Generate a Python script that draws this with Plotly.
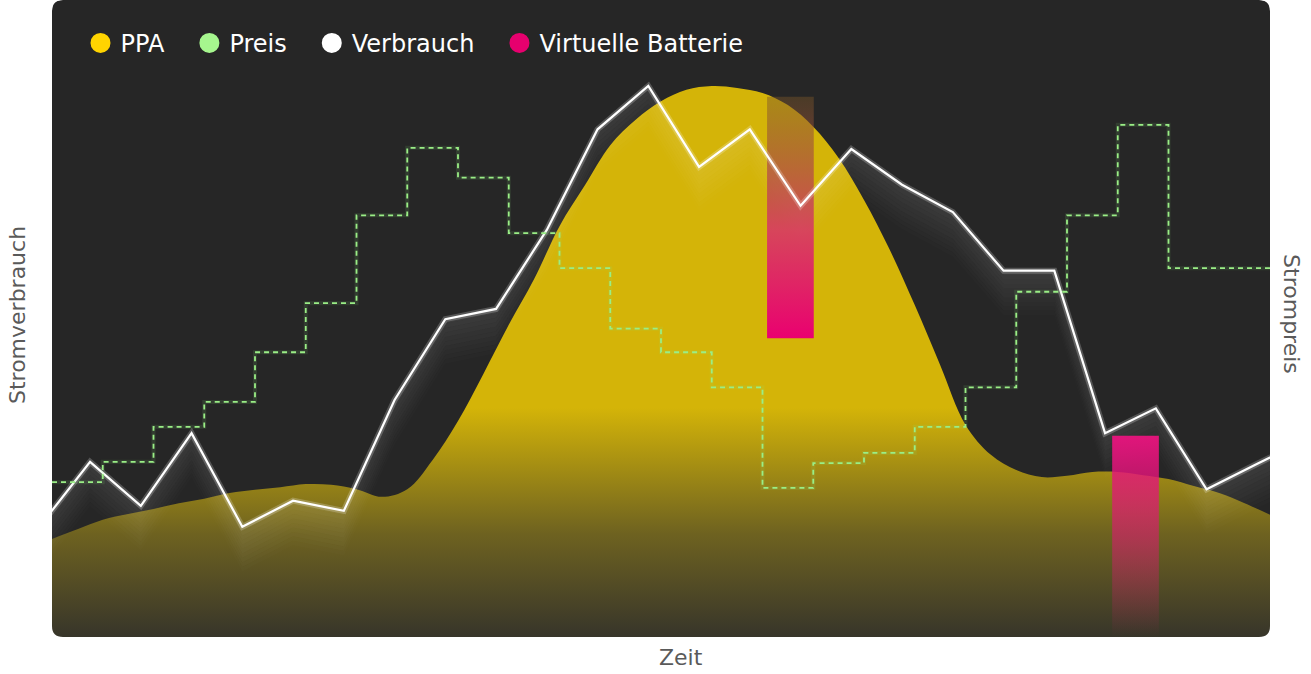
import plotly.graph_objects as go

# Time axis in hours, values in relative units (0-100)
verbrauch_hours = [-0.25, 0.75, 1.75, 2.75, 3.75, 4.75, 5.75, 6.75, 7.75, 8.75, 9.75, 10.75, 11.75,
                   12.75, 13.75, 14.75, 15.75, 16.75, 17.75, 18.75, 19.75, 20.75, 21.75, 22.75, 23.75, 24.75]
verbrauch = [17.3, 27.5, 20.6, 32.0, 17.3, 21.4, 19.8, 37.2, 49.9, 51.5, 63.9, 79.7, 86.5,
             73.8, 79.7, 67.7, 76.6, 71.0, 66.7, 57.5, 57.5, 32.0, 35.9, 23.2, 27.2, 31.1]

preis_hours = list(range(0, 23)) + [24]
preis = [24.3, 27.5, 33.0, 36.9, 44.7, 52.4, 66.2, 76.8, 72.1, 63.4, 57.9, 48.4, 44.7,
         39.2, 23.4, 27.3, 28.9, 33.0, 39.2, 54.2, 66.2, 80.4, 57.9, 57.9]

ppa_hours = [h / 2 for h in range(49)]
ppa = [15.4, 16.9, 18.4, 19.3, 20.1, 21.0, 21.7, 22.6, 23.1, 23.5, 24.0, 23.9, 23.2, 22.0, 23.2,
       27.8, 33.9, 41.3, 49.0, 56.2, 64.5, 70.9, 77.2, 81.2, 84.1, 85.9, 86.5, 86.2, 85.4, 83.5,
       80.1, 75.2, 68.6, 60.9, 52.1, 42.7, 33.3, 28.6, 26.2, 25.1, 25.3, 25.9, 25.9, 25.4, 24.8,
       23.7, 22.6, 21.0, 19.2]

batterie_hours = [14.55, 21.35]
batterie_low = [46.9, 0.0]
batterie_high = [84.8, 31.6]
batterie_width = 0.92

legend_names = ["PPA", "Preis", "Verbrauch", "Virtuelle Batterie"]
legend_colors = ["#FFD400", "#A6F68E", "#FFFFFF", "#E6006E"]

FONT = "DejaVu Sans"
PAD = "\u00a0\u00a0\u2009"   # extra room between legend entries

fig = go.Figure()

# PPA area with vertical gradient
fig.add_trace(go.Scatter(
    x=ppa_hours, y=ppa, mode="lines", line=dict(width=0, shape="spline", smoothing=1.0),
    fill="tozeroy",
    fillgradient=dict(type="vertical", start=0, stop=36,
                      colorscale=[[0, "#37352a"], [0.45, "#6e6220"], [1, "#d4b408"]]),
    hoverinfo="skip", showlegend=False,
))

# soft glow below the consumption line
glow_steps = [0.7 * k for k in range(1, 11)]
fig.add_trace(go.Scatter(x=verbrauch_hours, y=verbrauch, mode="lines", line=dict(width=0),
                         hoverinfo="skip", showlegend=False))
for n, d in enumerate(glow_steps):
    fig.add_trace(go.Scatter(
        x=verbrauch_hours, y=[v - d for v in verbrauch], mode="lines", line=dict(width=0),
        fill="tonexty", fillcolor="rgba(255,255,255,%.3f)" % (0.10 * (1 - n / len(glow_steps))),
        hoverinfo="skip", showlegend=False,
    ))

# price step line (secondary axis)
fig.add_trace(go.Scatter(
    x=preis_hours, y=preis, yaxis="y2", mode="lines",
    line=dict(color="rgba(140,230,120,0.12)", width=4, shape="hv"),
    hoverinfo="skip", showlegend=False,
))
fig.add_trace(go.Scatter(
    x=preis_hours, y=preis, yaxis="y2", mode="lines",
    line=dict(color="#9aee86", width=1.8, shape="hv", dash="5px,4px"),
    hoverinfo="skip", showlegend=False,
))

# virtual battery bars with gradient
bar_scales = [
    [[0, "rgba(234,0,112,1)"], [0.45, "rgba(215,50,105,0.85)"], [1, "rgba(120,85,40,0.45)"]],
    [[0, "rgba(228,20,120,0)"], [0.5, "rgba(228,20,120,0.55)"], [1, "rgba(230,20,125,0.97)"]],
]
for xc, lo, hi, cs in zip(batterie_hours, batterie_low, batterie_high, bar_scales):
    x0, x1 = xc - batterie_width / 2, xc + batterie_width / 2
    fig.add_trace(go.Scatter(
        x=[x0, x1, x1, x0, x0], y=[lo, lo, hi, hi, lo], mode="lines", line=dict(width=0),
        fill="toself", fillgradient=dict(type="vertical", colorscale=cs),
        hoverinfo="skip", showlegend=False,
    ))

# consumption line
fig.add_trace(go.Scatter(
    x=verbrauch_hours, y=verbrauch, mode="lines",
    line=dict(color="rgba(255,255,255,0.22)", width=6),
    hoverinfo="skip", showlegend=False,
))
fig.add_trace(go.Scatter(
    x=verbrauch_hours, y=verbrauch, mode="lines",
    line=dict(color="white", width=2.2),
    hoverinfo="skip", showlegend=False,
))

# legend entries as circles
for name, col in zip(legend_names, legend_colors):
    fig.add_trace(go.Scatter(
        x=[None], y=[None], mode="markers", name=name + PAD,
        marker=dict(symbol="circle", size=16, color=col, line=dict(width=4, color=col)),
    ))

# rounded dark panel + white corner masks
rx, ry = 11 / 1218, 11 / 637
panel = (f"M {rx},0 L {1-rx},0 Q 1,0 1,{ry} L 1,{1-ry} Q 1,1 {1-rx},1 "
         f"L {rx},1 Q 0,1 0,{1-ry} L 0,{ry} Q 0,0 {rx},0 Z")
shapes = [dict(type="path", xref="paper", yref="paper", path=panel,
               fillcolor="#262626", line=dict(width=0), layer="below")]
for cx, cy, sx, sy in [(0, 0, 1, 1), (1, 0, -1, 1), (0, 1, 1, -1), (1, 1, -1, -1)]:
    shapes.append(dict(
        type="path", xref="paper", yref="paper", layer="above", fillcolor="white",
        line=dict(width=0),
        path=f"M {cx},{cy} L {cx},{cy + sy*ry} Q {cx},{cy} {cx + sx*rx},{cy} Z",
    ))

axis_off = dict(showgrid=False, zeroline=False, showticklabels=False, showline=False,
                ticks="", fixedrange=True)
title_font = dict(size=22, color="#5a5a5a", family=FONT)

fig.update_layout(
    width=1311, height=674,
    margin=dict(l=52, r=41, t=0, b=37),
    paper_bgcolor="white", plot_bgcolor="rgba(0,0,0,0)",
    font=dict(family=FONT),
    xaxis=dict(range=[0, 24], **axis_off),
    yaxis=dict(range=[0, 100], **axis_off),
    yaxis2=dict(range=[0, 100], overlaying="y", side="right", **axis_off),
    shapes=shapes,
    showlegend=True,
    legend=dict(orientation="h", x=0.0234, y=0.932, xanchor="left", yanchor="middle",
                bgcolor="rgba(0,0,0,0)", font=dict(color="white", size=24, family=FONT),
                itemsizing="trace", traceorder="normal"),
    annotations=[
        dict(text="Stromverbrauch", xref="paper", yref="paper", x=-0.0279, y=0.5055,
             xanchor="center", yanchor="middle", textangle=-90, showarrow=False, font=title_font),
        dict(text="Strompreis", xref="paper", yref="paper", x=1.018, y=0.507,
             xanchor="center", yanchor="middle", textangle=90, showarrow=False, font=title_font),
        dict(text="Zeit", xref="paper", yref="paper", x=0.5164, y=-0.0314,
             xanchor="center", yanchor="middle", showarrow=False, font=title_font),
    ],
)

fig.write_html("out.html", config={"displayModeBar": False},
               post_script="document.body.style.margin='0';document.body.style.overflow='hidden';")
